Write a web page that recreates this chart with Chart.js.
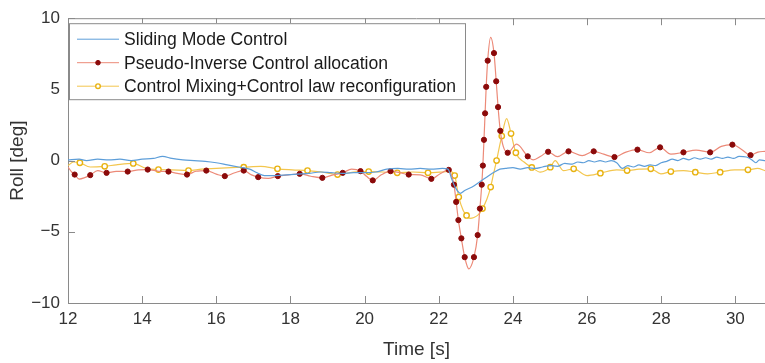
<!DOCTYPE html>
<html>
<head>
<meta charset="utf-8">
<title>Roll response</title>
<script src="https://cdn.jsdelivr.net/npm/chart.js@4.4.0/dist/chart.umd.min.js"></script>
<style>
    html, body { margin: 0; padding: 0; background: #fff; }
</style>
</head>
<body>
<canvas id="rollChart" width="765" height="363"></canvas>
<script>
// Axis ticks
const xTicks = [12, 14, 16, 18, 20, 22, 24, 26, 28, 30];
const yTicks = [-10, -5, 0, 5, 10];

// Sliding Mode Control
const smcTime = [12.0, 12.3, 12.5, 12.8, 13.1, 13.4, 13.7, 14.0, 14.3, 14.55, 14.8, 15.1, 15.4, 15.7, 16.0, 16.3, 16.6, 16.9, 17.1, 17.3,
    17.6, 17.9, 18.2, 18.5, 18.8, 19.1, 19.4, 19.7, 20.0, 20.3, 20.6, 20.9, 21.2, 21.5, 21.8, 22.1, 22.25, 22.35, 22.45, 22.58,
    22.7, 22.9, 23.1, 23.3, 23.5, 23.65, 23.8, 24.0, 24.2, 24.4, 24.6, 24.8, 25.0, 25.2, 25.4, 25.6, 25.75, 25.9, 26.05, 26.2,
    26.35, 26.5, 26.65, 26.8, 26.95, 27.1, 27.25, 27.4, 27.55, 27.7, 27.85, 28.0, 28.15, 28.3, 28.45, 28.6, 28.75, 28.9, 29.05, 29.2,
    29.35, 29.5, 29.65, 29.8, 29.95, 30.1, 30.3, 30.45, 30.55, 30.65, 30.8];
const smcRoll = [0.05, 0.1, 0.0, 0.1, 0.05, 0.1, 0.0, 0.1, 0.15, 0.3, 0.15, 0.05, 0.0, -0.05, -0.15, -0.3, -0.45, -0.6, -0.85, -1.05,
    -1.05, -1.0, -0.95, -0.9, -0.8, -0.85, -0.9, -0.85, -0.85, -0.8, -0.6, -0.55, -0.6, -0.55, -0.6, -0.55, -0.6, -1.3, -1.9, -2.3,
    -2.1, -1.85, -1.5, -1.15, -0.8, -0.6, -0.55, -0.5, -0.6, -0.5, -0.55, -0.45, -0.35, -0.4, -0.2, -0.25, -0.1, -0.15, 0.0, -0.1,
    0.0, -0.1, 0.0, -0.15, -0.55, -0.35, -0.45, -0.3, -0.4, -0.3, -0.35, -0.15, -0.05, 0.1, 0.0, 0.15, 0.05, 0.2, 0.1, 0.2,
    0.1, 0.25, 0.15, 0.25, 0.15, 0.3, 0.25, 0.05, -0.15, 0.05, 0.0];

// Pseudo-Inverse Control allocation (1 = marker drawn)
const pinvTime = [12.0, 12.1, 12.18, 12.3, 12.45, 12.6, 12.8, 13.04, 13.3, 13.61, 13.9, 14.15, 14.45, 14.71, 14.95, 15.21, 15.45, 15.73, 16.0, 16.23,
    16.5, 16.74, 16.95, 17.13, 17.4, 17.66, 17.95, 18.25, 18.55, 18.86, 19.15, 19.41, 19.65, 19.89, 20.05, 20.22, 20.45, 20.7, 20.95, 21.19,
    21.5, 21.8, 22.05, 22.27, 22.34, 22.41, 22.47, 22.53, 22.61, 22.7, 22.81, 22.95, 23.05, 23.11, 23.16, 23.19, 23.22, 23.25, 23.28, 23.32,
    23.4, 23.49, 23.55, 23.6, 23.66, 23.74, 23.86, 24.1, 24.4, 24.55, 24.75, 24.95, 25.2, 25.5, 25.87, 26.18, 26.45, 26.74, 27.05, 27.36,
    27.68, 27.97, 28.26, 28.6, 28.94, 29.32, 29.62, 29.92, 30.16, 30.41, 30.61, 30.8];
const pinvRoll = [-0.45, -0.8, -0.98, -1.3, -1.2, -1.02, -0.7, -0.86, -0.75, -0.77, -0.65, -0.63, -0.75, -0.77, -0.9, -0.98, -0.75, -0.7, -0.95, -1.09,
    -0.85, -0.7, -1.0, -1.16, -1.25, -1.09, -1.0, -0.93, -1.1, -1.21, -1.0, -0.86, -0.6, -0.74, -1.1, -1.39, -1.0, -0.74, -0.85, -0.98,
    -1.0, -1.28, -0.9, -0.65, -1.0, -1.69, -2.9, -4.18, -5.46, -6.78, -7.6, -6.78, -5.23, -3.37, -1.69, -0.35, 1.46, 3.32, 5.18, 7.02,
    8.65, 7.55, 5.57, 3.76, 2.09, 1.0, 0.55, 1.15, 0.3, 0.05, 0.3, 0.62, 0.28, 0.65, 0.35, 0.65, 0.45, 0.25, 0.6, 0.77,
    0.55, 0.93, 0.45, 0.58, 0.74, 0.58, 1.0, 1.12, 0.8, 0.38, 0.6, 0.65];
const pinvMark = [0, 0, 1, 0, 0, 1, 0, 1, 0, 1, 0, 1, 0, 1, 0, 1, 0, 1, 0, 1,
    0, 1, 0, 1, 0, 1, 0, 1, 0, 1, 0, 1, 0, 1, 0, 1, 0, 1, 0, 1,
    0, 1, 0, 1, 0, 1, 1, 1, 1, 1, 0, 1, 1, 1, 1, 1, 1, 1, 1, 1,
    0, 1, 1, 1, 1, 0, 1, 0, 1, 0, 0, 1, 0, 1, 0, 1, 0, 1, 0, 1,
    0, 1, 0, 1, 0, 1, 0, 1, 0, 1, 0, 0];

// Control Mixing + Control law reconfiguration (1 = marker drawn)
const mixTime = [12.0, 12.15, 12.32, 12.6, 12.99, 13.3, 13.76, 14.1, 14.44, 14.8, 15.25, 15.6, 16.0, 16.4, 16.74, 17.2, 17.65, 18.05, 18.46, 18.85,
    19.27, 19.7, 20.11, 20.5, 20.88, 21.3, 21.71, 22.1, 22.3, 22.43, 22.54, 22.66, 22.75, 22.84, 22.95, 23.07, 23.18, 23.3, 23.4, 23.48,
    23.56, 23.63, 23.7, 23.83, 23.95, 24.08, 24.3, 24.51, 24.74, 25.01, 25.14, 25.36, 25.64, 26.0, 26.36, 26.8, 27.08, 27.4, 27.72, 27.99,
    28.26, 28.6, 28.92, 29.25, 29.59, 29.98, 30.34, 30.6, 30.8];
const mixRoll = [-0.35, -0.1, -0.15, -0.45, -0.4, -0.3, -0.2, -0.55, -0.63, -0.65, -0.7, -0.6, -0.55, -0.5, -0.46, -0.4, -0.58, -0.65, -0.7, -0.8,
    -0.98, -0.8, -0.77, -0.8, -0.86, -0.8, -0.86, -0.8, -0.75, -1.05, -2.56, -3.5, -3.85, -4.06, -4.0, -3.8, -3.37, -2.7, -1.86, -0.9,
    0.0, 0.9, 1.72, 2.95, 1.9, 0.55, -0.1, -0.48, -0.81, -0.46, 0.0, -0.7, -0.58, -1.05, -0.88, -0.65, -0.7, -0.6, -0.58, -0.93,
    -0.77, -0.7, -0.81, -0.93, -0.81, -0.65, -0.65, -0.55, -0.7];
const mixMark = [0, 0, 1, 0, 1, 0, 1, 0, 1, 0, 1, 0, 0, 0, 1, 0, 1, 0, 1, 0,
    1, 0, 1, 0, 1, 0, 1, 0, 0, 1, 1, 0, 1, 0, 0, 0, 1, 0, 1, 0,
    1, 0, 1, 0, 1, 1, 0, 1, 0, 1, 0, 0, 1, 0, 1, 0, 1, 0, 1, 0,
    1, 0, 1, 0, 1, 0, 1, 0, 0];

const FONT = '"Liberation Sans", Arial, Helvetica, sans-serif';
const AXIS_GRAY = '#8a8a8a';
const TEXT_GRAY = '#333333';

function toPoints(ts, vs) {
    return ts.map((t, i) => ({ x: t, y: vs[i] }));
}

function markRadius(marks, r) {
    return ctx => (marks[ctx.dataIndex] ? r : 0);
}

// Draws the matlab style box: top edge plus short inward ticks on every side
const axisBox = {
    id: 'axisBox',
    afterDraw(chart) {
        const { ctx, chartArea: a, scales: { x, y } } = chart;
        ctx.save();
        ctx.strokeStyle = AXIS_GRAY;
        ctx.lineWidth = 1;
        ctx.beginPath();
        ctx.moveTo(a.left, a.top + 0.5);
        ctx.lineTo(a.right, a.top + 0.5);
        xTicks.forEach(v => {
            const px = Math.round(x.getPixelForValue(v)) + 0.5;
            ctx.moveTo(px, a.bottom);
            ctx.lineTo(px, a.bottom - 7);
            ctx.moveTo(px, a.top);
            ctx.lineTo(px, a.top + 7);
        });
        yTicks.forEach(v => {
            const py = Math.round(y.getPixelForValue(v)) + 0.5;
            ctx.moveTo(a.left, py);
            ctx.lineTo(a.left + 7, py);
        });
        ctx.stroke();
        ctx.restore();
    }
};

// Legend box in the upper left corner of the axes
const boxLegend = {
    id: 'boxLegend',
    afterDraw(chart) {
        const { ctx, chartArea: a } = chart;
        const left = a.left + 1, top = a.top + 5, w = 396, h = 76;
        ctx.save();
        ctx.fillStyle = '#fff';
        ctx.fillRect(left, top, w, h);
        ctx.strokeStyle = AXIS_GRAY;
        ctx.lineWidth = 1;
        ctx.strokeRect(left + 0.5, top + 0.5, w, h);
        ctx.font = '17.6px ' + FONT;
        ctx.textBaseline = 'middle';
        chart.data.datasets.forEach((ds, i) => {
            const cy = top + 16 + i * 23.5;
            ctx.strokeStyle = ds.borderColor;
            ctx.lineWidth = 1;
            ctx.beginPath();
            ctx.moveTo(left + 8, cy);
            ctx.lineTo(left + 50, cy);
            ctx.stroke();
            if (ds.legendMarker) {
                ctx.beginPath();
                ctx.arc(left + 29, cy, 2.3, 0, Math.PI * 2);
                ctx.fillStyle = ds.pointBackgroundColor;
                ctx.fill();
                ctx.strokeStyle = ds.pointBorderColor;
                ctx.lineWidth = ds.pointBorderWidth;
                ctx.stroke();
            }
            ctx.fillStyle = '#1a1a1a';
            ctx.fillText(ds.label, left + 55, cy + 1);
        });
        ctx.restore();
    }
};

new Chart(document.getElementById('rollChart'), {
    type: 'line',
    data: {
        datasets: [
            {
                label: 'Sliding Mode Control',
                data: toPoints(smcTime, smcRoll),
                borderColor: '#5d9ed9',
                borderWidth: 1.2,
                pointRadius: 0,
                legendMarker: false
            },
            {
                label: 'Pseudo-Inverse Control allocation',
                data: toPoints(pinvTime, pinvRoll),
                borderColor: '#ec8a78',
                borderWidth: 1.2,
                pointRadius: markRadius(pinvMark, 2.6),
                pointBackgroundColor: '#8b0a0a',
                pointBorderColor: '#8b0a0a',
                pointBorderWidth: 1,
                legendMarker: true
            },
            {
                label: 'Control Mixing+Control law reconfiguration',
                data: toPoints(mixTime, mixRoll),
                borderColor: '#f3c64e',
                borderWidth: 1.2,
                pointRadius: markRadius(mixMark, 2.7),
                pointBackgroundColor: '#ffffff',
                pointBorderColor: '#e8b312',
                pointBorderWidth: 1.4,
                legendMarker: true
            }
        ]
    },
    options: {
        responsive: false,
        animation: false,
        devicePixelRatio: 1,
        cubicInterpolationMode: 'monotone',
        layout: { padding: { top: 16, right: 0, left: 0, bottom: 0 } },
        plugins: {
            legend: { display: false },
            tooltip: { enabled: false }
        },
        scales: {
            x: {
                type: 'linear',
                min: 12,
                max: 30.8,
                afterBuildTicks: scale => { scale.ticks = xTicks.map(v => ({ value: v })); },
                afterFit: scale => { scale.height = 60; },
                ticks: {
                    color: TEXT_GRAY,
                    font: { family: FONT, size: 17 },
                    padding: 6,
                    maxRotation: 0
                },
                grid: { drawOnChartArea: false, drawTicks: false },
                border: { color: AXIS_GRAY, width: 1 },
                title: {
                    display: true,
                    text: 'Time [s]',
                    color: TEXT_GRAY,
                    font: { family: FONT, size: 19 },
                    padding: { top: 2, bottom: 2 }
                }
            },
            y: {
                min: -10,
                max: 10,
                afterBuildTicks: scale => { scale.ticks = yTicks.map(v => ({ value: v })); },
                afterFit: scale => { scale.width = 68; },
                ticks: {
                    color: TEXT_GRAY,
                    font: { family: FONT, size: 17 },
                    padding: 8,
                    callback: v => String(v).replace('-', '\u2212')
                },
                grid: { drawOnChartArea: false, drawTicks: false },
                border: { color: AXIS_GRAY, width: 1 },
                title: {
                    display: true,
                    text: 'Roll [deg]',
                    color: TEXT_GRAY,
                    font: { family: FONT, size: 19 },
                    padding: { top: 6, bottom: 0 }
                }
            }
        }
    },
    plugins: [axisBox, boxLegend]
});
</script>
</body>
</html>
